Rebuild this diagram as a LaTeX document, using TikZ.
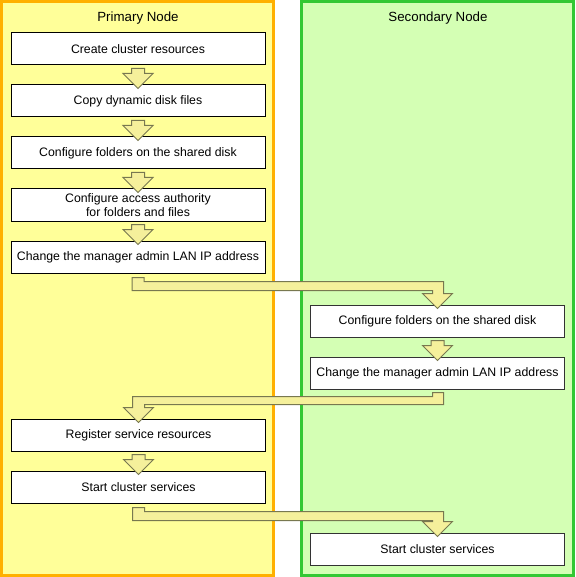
\documentclass[tikz,border=0pt]{standalone}
\usepackage{fontspec}
\setmainfont{Liberation Sans}
\usetikzlibrary{calc}
\definecolor{panelY}{RGB}{255,255,153}
\definecolor{panelG}{RGB}{212,255,180}
\definecolor{edgeO}{RGB}{255,176,0}
\definecolor{edgeG}{RGB}{51,200,51}
\definecolor{arrFill}{RGB}{245,240,155}
\definecolor{arrEdge}{RGB}{120,120,80}
\tikzset{
  panelL/.style={draw=edgeO,fill=panelY,line width=2.7pt},
  panelR/.style={draw=edgeG,fill=panelG,line width=2.7pt},
  title/.style={font=\fontsize{13.3}{15}\selectfont,inner sep=0pt},
  stepbox/.style={draw=black,fill=white,line width=1pt,minimum width=254pt,minimum height=32pt,inner sep=0pt,align=center,font=\fontsize{12.3}{13.5}\selectfont},
  blk/.style={fill=arrFill,draw=arrEdge,line width=1pt,line join=miter}
}
\newcommand\dnarrow[2]{%
  \path[blk] let \p1=(#1.south),\p2=(#2.north) in
   (\x1-6.5pt,\y1-3pt) -- (\x1+6.5pt,\y1-3pt) -- (\x1+6.5pt,\y2+11pt) -- (\x1+15pt,\y2+11pt)
   -- (\x1,\y2-4pt) -- (\x1-15pt,\y2+11pt) -- (\x1-6.5pt,\y2+11pt) -- cycle;}
\newcommand\lrarrow[2]{%
  \path[blk] let \p1=(#1.south),\p2=(#2.north) in
   (\x1-6pt,\y1-4pt) -- (\x1+6pt,\y1-4pt) -- (\x1+6pt,\y1-8pt) -- (\x2+6pt,\y1-8pt)
   -- (\x2+6pt,\y2+11pt) -- (\x2+15pt,\y2+11pt) -- (\x2,\y2-4pt) -- (\x2-15pt,\y2+11pt)
   -- (\x2-5pt,\y2+11pt) -- (\x2-5pt,\y1-17pt) -- (\x1-6pt,\y1-17pt) -- cycle;}
\newcommand\rlarrow[2]{%
  \path[blk] let \p1=(#1.south),\p2=(#2.north) in
   (\x1-5pt,\y1-3pt) -- (\x1+6pt,\y1-3pt) -- (\x1+6pt,\y1-15pt) -- (\x2+6pt,\y1-15pt)
   -- (\x2+6pt,\y2+11pt) -- (\x2+15pt,\y2+11pt) -- (\x2,\y2-4pt) -- (\x2-15pt,\y2+11pt)
   -- (\x2-6pt,\y2+11pt) -- (\x2-6pt,\y1-7pt) -- (\x1-5pt,\y1-7pt) -- cycle;}
\begin{document}
\begin{tikzpicture}[x=1pt,y=-1pt]
\useasboundingbox (0,0) rectangle (575,577);
\path[panelL] (1.35,1.35) rectangle (273.65,575.65);
\path[panelR] (301.35,1.35) rectangle (573.65,575.65);
\node[title] (tp) at (138,18.5) {Primary Node};
\node[title] (ts) at (438,18.5) {Secondary Node};
\node[stepbox] (b1) at (138,49) {Create cluster resources};
\node[stepbox] (b2) at (138,101) {Copy dynamic disk files};
\node[stepbox] (b3) at (138,153) {Configure folders on the shared disk};
\node[stepbox] (b4) at (138,205) {Configure access authority\\for folders and files};
\node[stepbox] (b5) at (138,257) {Change the manager admin LAN IP address};
\node[stepbox,draw=black!80] (r1) at (437.5,321) {Configure folders on the shared disk};
\node[stepbox,draw=black!80] (r2) at (437.5,373) {Change the manager admin LAN IP address};
\node[stepbox] (b6) at (138.5,435) {Register service resources};
\node[stepbox] (b7) at (138.5,487) {Start cluster services};
\node[stepbox,draw=black!80] (r3) at (437.5,549) {Start cluster services};
\dnarrow{b1}{b2}
\dnarrow{b2}{b3}
\dnarrow{b3}{b4}
\dnarrow{b4}{b5}
\lrarrow{b5}{r1}
\dnarrow{r1}{r2}
\rlarrow{r2}{b6}
\dnarrow{b6}{b7}
\lrarrow{b7}{r3}
\end{tikzpicture}
\end{document}
